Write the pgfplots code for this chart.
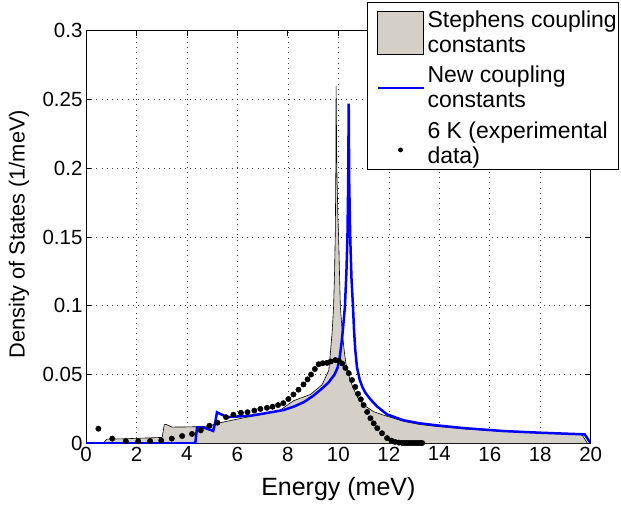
\documentclass[border=0pt]{standalone}
\usepackage{fontspec}
\setmainfont{Liberation Sans}
\usepackage{pgfplots}
\pgfplotsset{compat=1.18}
\definecolor{stgray}{RGB}{212,208,200}
\begin{document}
\begin{tikzpicture}
\begin{axis}[
  scale only axis, width=504.7pt, height=412.6pt,
  xmin=0, xmax=20, ymin=0, ymax=0.3,
  xtick={0,2,4,6,8,10,12,14,16,18,20},
  ytick={0,0.05,0.1,0.15,0.2,0.25,0.3},
  grid=major,
  major grid style={black!75, line width=0.6pt, dash pattern=on 0.8pt off 4.4pt},
  axis line style={line width=0.8pt},
  tick style={black, line width=0.8pt},
  major tick length=5pt,
  tick align=inside,
  scaled y ticks=false,
  yticklabel style={/pgf/number format/fixed, /pgf/number format/precision=2},
  /pgf/number format/assume math mode=true,
  tick label style={font=\fontsize{20.5}{24}\selectfont},
  xlabel={Energy (meV)},
  ylabel={Density of States (1/meV)},
  xlabel style={font=\fontsize{25}{28}\selectfont, at={(axis description cs:0.5,-0.1265)}, anchor=base},
  ylabel style={font=\fontsize{21.8}{26}\selectfont, at={(axis description cs:-0.1328,0.507)}, anchor=center},
  legend style={at={(0.556,1.0703)}, anchor=north west, draw=black, line width=0.8pt,
    fill=white, font=\fontsize{23}{25}\selectfont,
    nodes={align=left, inner xsep=1pt, inner ysep=1pt}, row sep=10pt, inner xsep=0.5pt, inner ysep=3.5pt},
  legend cell align=left,
]
\addplot[fill=stgray, draw=black, line width=0.6pt,
  legend image code/.code={\path[draw=none, fill=none] (0pt,27pt) rectangle (59pt,-21.5pt);
    \draw[fill=stgray, draw=black, line width=0.6pt] (10pt,-21.5pt) rectangle (56pt,21.5pt);}]
coordinates {
(0,0) (0.69,0) (0.82,0.0030) (1.5,0.0033) (2.3,0.0038) (3.02,0.0043) (3.10,0.0135) (3.18,0.0137)
(3.41,0.0118) (4.0,0.0119) (4.8,0.0123) (5.32,0.0150) (5.9,0.0172) (6.5,0.0195) (7.1,0.0215)
(7.7,0.0242) (8.23,0.0310) (8.89,0.0355) (9.35,0.0425) (9.62,0.0530) (9.68,0.0650) (9.75,0.0800)
(9.81,0.0990) (9.85,0.1250) (9.88,0.1550) (9.90,0.2000) (9.91,0.2597) (9.94,0.2000) (9.98,0.1650)
(10.01,0.1500) (10.05,0.1200) (10.08,0.0990) (10.16,0.0800) (10.24,0.0660) (10.30,0.0580)
(10.45,0.0470) (10.60,0.0395) (10.80,0.0320) (11.07,0.0270) (11.40,0.0230) (11.79,0.0205)
(12.58,0.0160) (13.20,0.0138) (13.92,0.0122) (15.00,0.0105) (16.56,0.0087) (18.00,0.0075)
(19.60,0.0062) (19.67,0.0058) (19.87,0)
} \closedcycle;
\addlegendentry{Stephens coupling\\constants}
\addplot[blue, line width=2.5pt,
  legend image code/.code={\path[draw=none, fill=none] (0pt,-1pt) rectangle (59pt,1pt);
    \draw[blue, line width=2.5pt] (10pt,0pt) -- (56pt,0pt);}]
coordinates {
(0,0) (4.33,0) (4.40,0.0116) (4.70,0.0112) (5.04,0.0090) (5.12,0.0150) (5.19,0.0225) (5.30,0.0215)
(5.60,0.0190) (6.00,0.0195) (6.50,0.0200) (6.90,0.0212) (7.40,0.0228) (7.83,0.0242) (8.25,0.0268)
(8.64,0.0300) (9.00,0.0345) (9.30,0.0390) (9.60,0.0440) (9.85,0.0500) (9.97,0.0550) (10.05,0.0620)
(10.12,0.0720) (10.18,0.0826) (10.26,0.0993) (10.32,0.1250) (10.36,0.1500) (10.39,0.1900)
(10.41,0.2470) (10.43,0.1900) (10.47,0.1500) (10.52,0.1200) (10.58,0.0993) (10.62,0.0826)
(10.67,0.0680) (10.74,0.0550) (10.85,0.0460) (10.95,0.0410) (11.07,0.0368) (11.27,0.0320)
(11.54,0.0267) (11.93,0.0210) (12.59,0.0167) (13.20,0.0146) (13.92,0.0130) (15.00,0.0110)
(16.56,0.0089) (18.00,0.0077) (19.76,0.0065) (20.00,0)
};
\addlegendentry{New coupling\\constants}
\addplot[only marks, mark=*, mark size=2.7pt, black,
  legend image code/.code={\path[draw=none, fill=none] (0pt,-1pt) rectangle (59pt,1pt);
    \fill[black] (33pt,-7pt) circle (2pt);}]
coordinates {
(0.49,0.0106) (1.04,0.0034) (1.58,0.0015) (2.07,0.0015) (2.54,0.0017) (2.98,0.0020) (3.40,0.0034)
(3.81,0.0053) (4.20,0.0068) (4.55,0.0094) (4.89,0.0128) (5.21,0.0150) (5.55,0.0190) (5.84,0.0208)
(6.14,0.0222) (6.40,0.0226) (6.67,0.0238) (6.91,0.0250) (7.17,0.0258) (7.39,0.0266) (7.61,0.0278)
(7.82,0.0292) (8.02,0.0322) (8.22,0.0355) (8.42,0.0390) (8.62,0.0428) (8.78,0.0465) (8.92,0.0500)
(9.07,0.0540) (9.22,0.0575) (9.38,0.0582) (9.55,0.0585) (9.70,0.0595) (9.88,0.0605) (10.02,0.0600)
(10.15,0.0580) (10.28,0.0548) (10.41,0.0510) (10.54,0.0460) (10.67,0.0410) (10.78,0.0360)
(10.89,0.0320) (11.00,0.0278) (11.14,0.0228) (11.27,0.0182) (11.40,0.0145) (11.54,0.0110)
(11.73,0.0073) (11.93,0.0038) (12.10,0.0020) (12.25,0.0010) (12.40,0.0005) (12.52,0.0003)
(12.62,0.0002) (12.70,0.0002) (12.78,0.0002) (12.86,0.0002) (12.94,0.0002) (13.02,0.0002)
(13.10,0.0002) (13.18,0.0002) (13.26,0.0002) (13.32,0.0002)
};
\addlegendentry{6 K (experimental\\data)}
\coordinate (bbbl) at (rel axis cs:-0.1704,-0.1568);
\coordinate (bbtr) at (rel axis cs:1.0600,1.0744);
\end{axis}
\pgfresetboundingbox
\path (bbbl) rectangle (bbtr);
\end{tikzpicture}
\end{document}
